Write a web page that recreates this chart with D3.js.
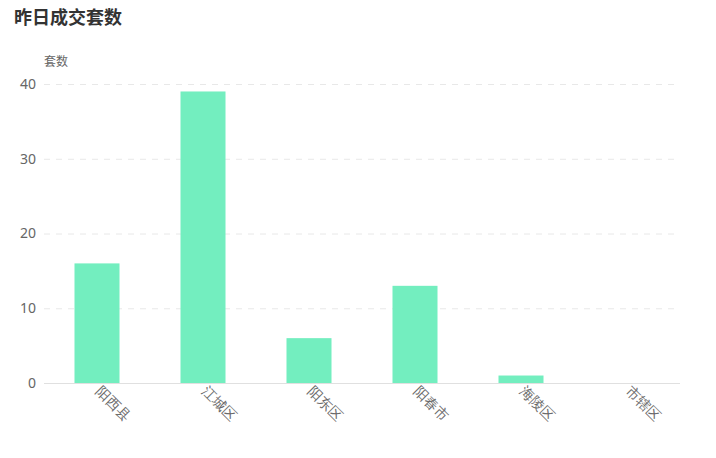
<!DOCTYPE html>
<html><head><meta charset="utf-8">
<script src="https://cdn.jsdelivr.net/npm/d3@7"></script>
<style>body{margin:0;background:#fff;}svg{display:block;font-family:"Noto Sans CJK SC","Noto Sans",sans-serif;}</style>
</head><body>
<svg id="c" width="716" height="458"></svg>
<script>
const categories = ["阳西县","江城区","阳东区","阳春市","海陵区","市辖区"];
const values = [16, 39, 6, 13, 1, 0];
const yTicks = [0, 10, 20, 30, 40];
const title = "昨日成交套数";
const yName = "套数";

const svg = d3.select("#c");
const m = {left:44, right:680, top:84, bottom:383};
const xb = d3.scaleBand().domain(categories).range([m.left, m.right]);
const y = d3.scaleLinear().domain([0, 40]).range([m.bottom, m.top]);

svg.append("text").attr("x",14).attr("y",24).attr("font-size",18).attr("font-weight","bold").attr("fill","#333").text(title);
svg.append("text").attr("x",44).attr("y",66).attr("font-size",12).attr("fill","#666").text(yName);

const grid = svg.append("g");
yTicks.filter(t=>t>0).forEach(t=>{
  grid.append("line").attr("x1",m.left).attr("x2",m.right).attr("y1",y(t)+0.5).attr("y2",y(t)+0.5)
    .attr("stroke","#e8e8e8").attr("stroke-dasharray","6,6");
});
const yAxis = svg.append("g").attr("transform",`translate(${m.left},0)`)
  .call(d3.axisLeft(y).tickValues(yTicks).tickSize(0).tickPadding(8));
yAxis.select(".domain").remove();
yAxis.selectAll("text").attr("font-size",14).attr("fill","#666").attr("font-family","'Noto Sans',sans-serif");

svg.append("g").selectAll("rect").data(values).join("rect")
  .attr("x",(d,i)=>xb(categories[i]) + (xb.bandwidth()-45)/2)
  .attr("width",45)
  .attr("y",d=>y(d)).attr("height",d=>y(0)-y(d))
  .attr("fill","#73eebf");

const xAxis = svg.append("g").attr("transform",`translate(0,${m.bottom})`)
  .call(d3.axisBottom(xb).tickSize(0).tickPadding(0));
xAxis.select(".domain").attr("stroke","#e0e0e0").attr("d",`M${m.left},0.5H${m.right}`);
xAxis.selectAll(".tick text").attr("font-size",14).attr("fill","#6a6a6a")
  .attr("text-anchor","start").attr("dy",null).attr("y",0)
  .attr("transform","translate(-2,9) rotate(45)");
</script>
</body></html>
